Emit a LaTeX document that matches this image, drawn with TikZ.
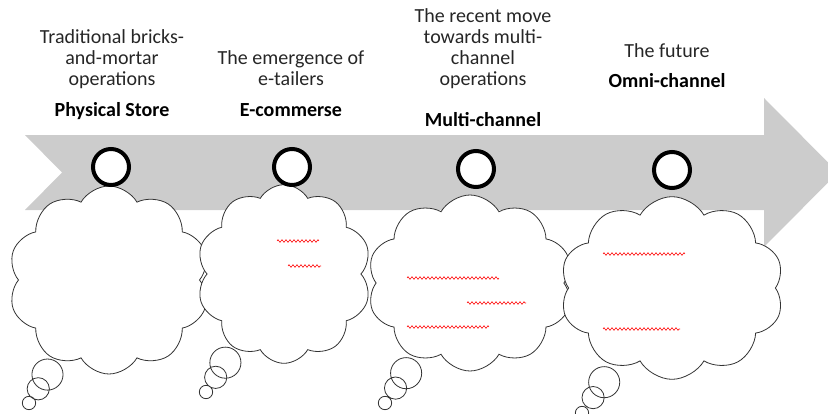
\documentclass[tikz,border=0pt]{standalone}
\usepackage{fontspec}
\setmainfont{Carlito}
\usetikzlibrary{shapes.callouts,shapes.symbols,decorations.pathmorphing}

\begin{document}
\begin{tikzpicture}[x=0.75pt,y=-0.75pt,
  font=\fontsize{15pt}{15.75pt}\selectfont,
  stage/.style={align=center,anchor=south,inner sep=0pt,text=black!85},
  title/.style={font=\fontsize{15pt}{15.75pt}\selectfont\bfseries,anchor=base,inner sep=0pt},
  milestone/.style={circle,draw=black,line width=3pt,fill=white,minimum size=27pt,inner sep=0pt},
  thought/.style={cloud callout,draw=black!80,line width=0.6pt,fill=white,cloud puffs=10,cloud puff arc=120,
    callout pointer segments=3,callout pointer start size=30pt,callout pointer end size=10pt},
  typo/.style={red,line width=0.4pt,decorate,decoration={zigzag,segment length=3pt,amplitude=1pt}}]

\useasboundingbox (0,0) rectangle (828,414);

% Fleche de fond
\fill[black!20] (25,135) -- (764,135) -- (764,98) -- (838,172.5) -- (764,247)
  -- (764,210) -- (25,210) -- (62,172.5) -- cycle;

% Bulles
\node[thought,minimum width=151pt,minimum height=141pt,callout absolute pointer={(29,403)}] (c1) at (109,280) {};
\node[thought,minimum width=131pt,minimum height=134pt,callout absolute pointer={(206,392)}] (c2) at (284,274) {};
\node[thought,minimum width=154pt,minimum height=132pt,callout absolute pointer={(385,403)}] (c3) at (470,283) {};
\node[thought,minimum width=168pt,minimum height=137pt,callout absolute pointer={(582,413)}] (c4) at (672,288) {};

% Soulignements
\draw[typo] (277,241) -- (319,241);
\draw[typo] (288,266) -- (321,266);
\draw[typo] (407,278) -- (499,278);
\draw[typo] (467,303) -- (526,303);
\draw[typo] (407,327) -- (489,327);
\draw[typo] (603,254) -- (685,254);
\draw[typo] (603,329) -- (680,329);

% Jalons
\foreach \n/\x/\y in {1/111/167, 2/292/167, 3/476/169, 4/672/170}
{
    \node[milestone] (m\n) at (\x,\y) {};
}

% Textes
\node[stage] (d1) at (112,89) {Traditional bricks-\\and-mortar\\operations};
\node[title] (t1) at (112,116) {Physical Store};
\node[stage] (d2) at (291,86) {The emergence of\\e-tailers};
\node[title] (t2) at (291,116) {E-commerse};
\node[stage] (d3) at (483,89) {The recent move\\towards multi-\\channel\\operations};
\node[title] (t3) at (483,126) {Multi-channel};
\node[stage] (d4) at (667,58) {The future};
\node[title] (t4) at (667,87) {Omni-channel};

\end{tikzpicture}
\end{document}
